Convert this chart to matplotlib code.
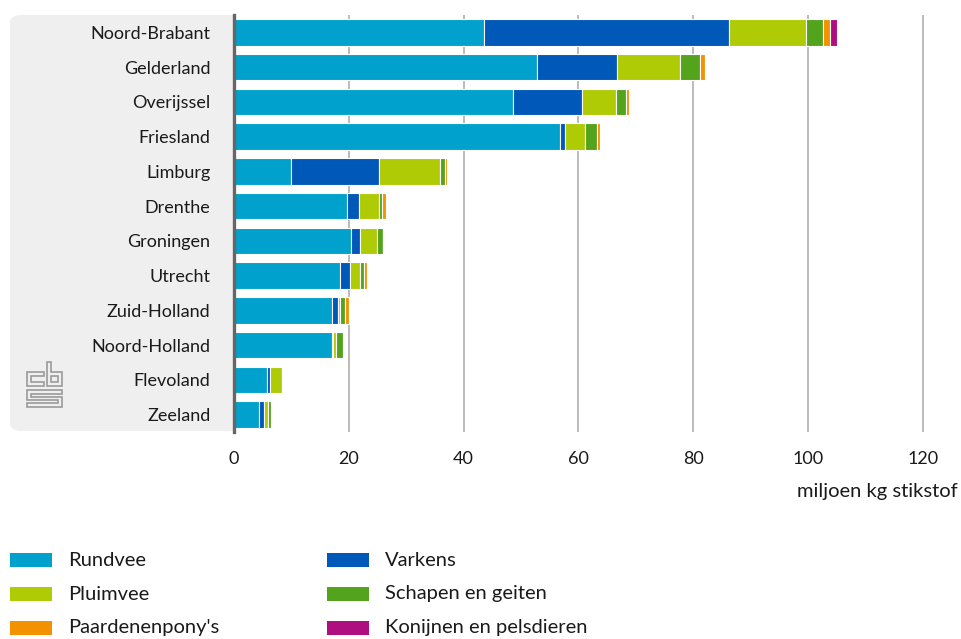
import matplotlib
matplotlib.use("Agg")
import matplotlib.pyplot as plt
from matplotlib.patches import FancyBboxPatch, Rectangle, Polygon
import numpy as np

plt.rcParams['font.family'] = ['Lato', 'DejaVu Sans']

# data (miljoen kg stikstof)
provinces = ['Noord-Brabant', 'Gelderland', 'Overijssel', 'Friesland', 'Limburg', 'Drenthe',
             'Groningen', 'Utrecht', 'Zuid-Holland', 'Noord-Holland', 'Flevoland', 'Zeeland']
rundvee = [43.5, 52.8, 48.6, 56.8, 10.0, 19.7, 20.3, 18.5, 17.1, 17.1, 5.8, 4.4]
varkens = [42.7, 13.9, 12.0, 0.9, 15.3, 2.1, 1.6, 1.7, 1.1, 0.1, 0.5, 0.8]
pluimvee = [13.5, 11.0, 6.0, 3.5, 10.6, 3.5, 3.0, 1.8, 0.2, 0.5, 2.0, 0.8]
schapen = [2.9, 3.5, 1.7, 2.0, 0.9, 0.5, 1.0, 0.6, 1.0, 1.3, 0.1, 0.5]
paarden = [1.2, 0.9, 0.5, 0.6, 0.4, 0.6, 0.1, 0.6, 0.6, 0.2, 0.1, 0.1]
konijnen = [1.2, 0.1, 0.0, 0.0, 0.0, 0.0, 0.0, 0.0, 0.0, 0.0, 0.0, 0.0]

series = [('Rundvee', rundvee, '#00a1cd'),
          ('Varkens', varkens, '#0058b8'),
          ('Pluimvee', pluimvee, '#afcb05'),
          ('Schapen en geiten', schapen, '#53a31d'),
          ("Paardenenpony's", paarden, '#f39200'),
          ('Konijnen en pelsdieren', konijnen, '#af0e80')]
xticks = [0, 20, 40, 60, 80, 100, 120]

W, H = 961, 639
fig = plt.figure(figsize=(W / 100, H / 100), dpi=100)
text_col = '#1a1a1a'

def fx(x):
    return x / W

def fy(y):
    return 1 - y / H

# grey label panel
panel = FancyBboxPatch((fx(10), fy(431)), fx(250 - 10), (431 - 15) / H,
                       boxstyle='round,pad=0,rounding_size=0.012',
                       transform=fig.transFigure, facecolor='#efefef',
                       edgecolor='none', zorder=-1)
fig.patches.append(panel)

ax = fig.add_axes([fx(234), fy(432), fx(960 - 234), (432 - 15) / H])
ax.set_facecolor('white')

y = np.arange(len(provinces))
left = np.zeros(len(provinces))
for name, vals, col in series:
    vals = np.array(vals)
    ax.barh(y, vals, left=left, height=0.76, color=col, edgecolor='white',
            linewidth=0.8, zorder=3, label=name)
    left += vals

ax.set_xlim(0, 126.5)
ax.set_ylim(len(provinces) - 0.5, -0.5)
ax.set_yticks(y)
ax.set_yticklabels(provinces, fontsize=13, color=text_col)
ax.set_xticks(xticks)
ax.set_xticklabels([str(t) for t in xticks], fontsize=13, color=text_col)
ax.tick_params(axis='y', length=0, pad=17)
ax.tick_params(axis='x', length=0, pad=14)
for xt in xticks[1:]:
    ax.axvline(xt, color='#a8a8a8', linewidth=1.1, zorder=1)
for s in ['top', 'right', 'bottom']:
    ax.spines[s].set_visible(False)
ax.spines['left'].set_color('#666666')
ax.spines['left'].set_linewidth(2.4)
ax.spines['left'].set_zorder(4)

fig.text(fx(958), fy(492), 'miljoen kg stikstof', ha='right', va='center',
         fontsize=14.5, color=text_col)

# legend
legend_pos = [(10, 560), (327, 560), (10, 594), (327, 594), (10, 628), (327, 628)]
for (name, vals, col), (lx, ly) in zip(series, legend_pos):
    fig.patches.append(Rectangle((fx(lx), fy(ly + 7)), fx(42), 14 / H,
                                 transform=fig.transFigure, facecolor=col,
                                 edgecolor='none'))
    fig.text(fx(lx + 58), fy(ly), name, ha='left', va='center', fontsize=14.5,
             color=text_col)

# cbs logo
logo = [
    [(44, 372), (27, 372), (27, 386), (44, 386), (44, 382), (31, 382), (31, 376), (44, 376)],
    [(47, 362), (51, 362), (51, 372), (62, 372), (62, 386), (47, 386)],
    [(51, 376), (58, 376), (58, 382), (51, 382)],
    [(27, 390), (62, 390), (62, 394), (31, 394), (31, 397), (62, 397), (62, 407),
     (27, 407), (27, 403), (58, 403), (58, 400), (27, 400)],
]
for pts in logo:
    fig.patches.append(Polygon([(fx(a), fy(b)) for a, b in pts], closed=True,
                               transform=fig.transFigure, fill=False,
                               edgecolor='#9a9a9a', linewidth=1.2))

fig.savefig('out.png', dpi=100)
